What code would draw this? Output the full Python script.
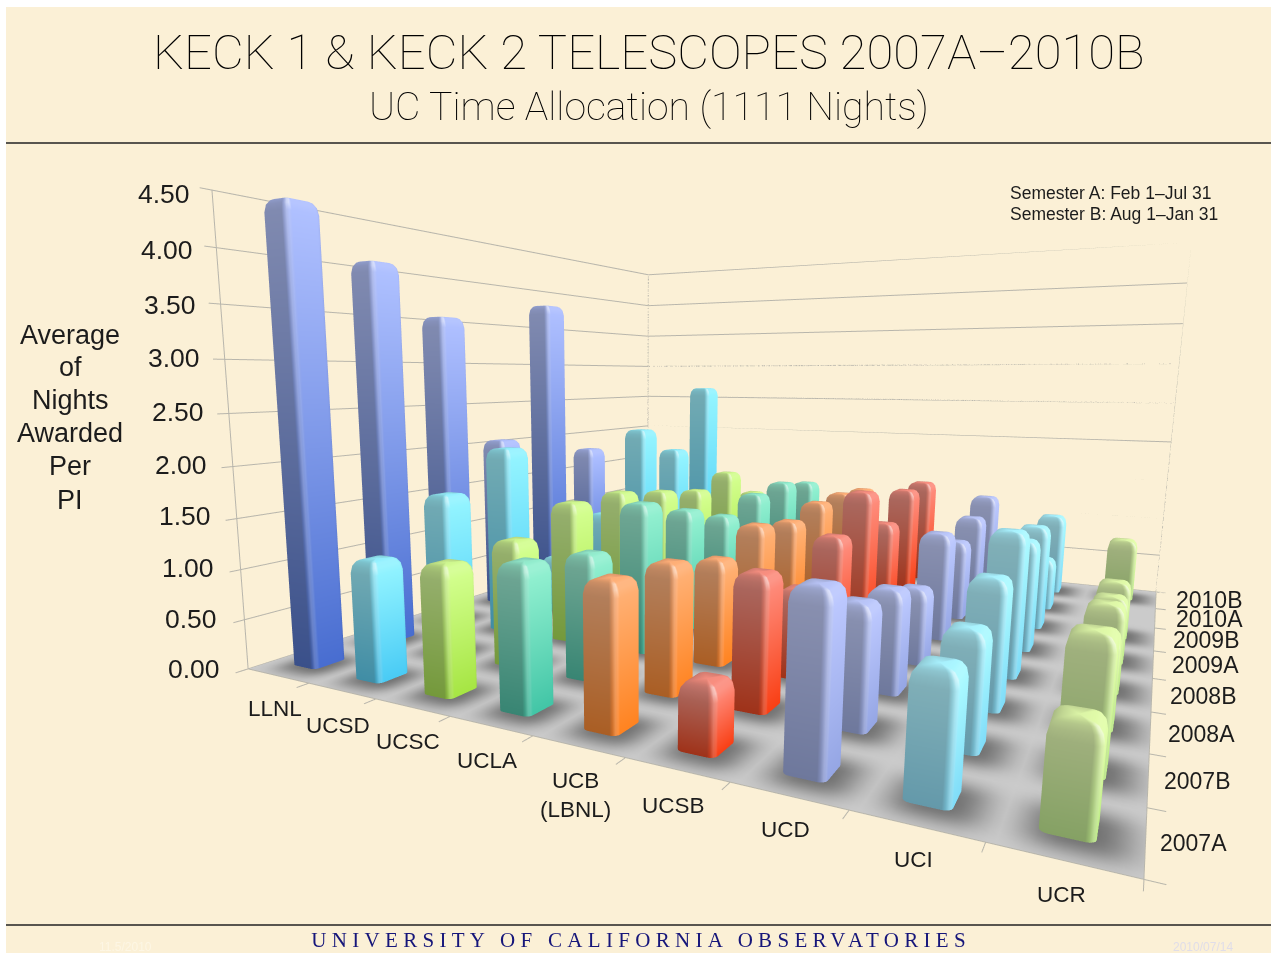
import numpy as np, plotly.graph_objects as go
INST=["LLNL","UCSD","UCSC","UCLA","UCB<br>(LBNL)","UCSB","UCD","UCI","UCR"]
SEM=["2007A","2007B","2008A","2008B","2009A","2009B","2010A","2010B"]
TICKS=["0.00","0.50","1.00","1.50","2.00","2.50","3.00","3.50","4.00","4.50"]
N2007A=[4.45,1.15,1.20,1.30,1.25,0.55,1.40,0.95,0.75]
N2007B=[4.00,1.65,1.25,1.20,1.20,1.20,1.05,0.95,1.05]
N2008A=[3.50,2.05,1.50,1.55,1.05,0.85,0.95,1.15,0.80]
N2008B=[2.05,0.65,1.50,1.35,1.25,1.20,0.75,1.40,0.80]
N2009A=[3.75,1.05,1.40,1.15,1.15,1.55,1.15,1.15,0.65]
N2009B=[1.80,2.10,1.30,1.30,1.25,1.05,0.90,1.15,0.60]
N2010A=[0.00,1.75,1.45,1.35,1.25,1.35,1.05,0.60,0.00]
N2010B=[0.00,2.65,1.05,1.25,1.20,1.35,1.20,1.00,0.75]
v=np.array([N2007A,N2007B,N2008A,N2008B,N2009A,N2009B,N2010A,N2010B])
COL_B=["#4468c8","#45c3ec","#9fdc40","#3fbd9f","#fb7d1e","#ef3c12","#8f9fdb","#7bd3ee","#b4e27e"]
COL_T=["#aabaf8","#90ecfa","#cdf68c","#8fe9ca","#ffac74","#f58a7c","#b6c2f6","#a6f2ff","#dcf6a4"]
def hex2(c): return np.array([int(c[i:i+2],16) for i in (1,3,5)],float)
def h(c): return "#%02x%02x%02x"%tuple(int(max(0,min(255,round(t)))) for t in c)
E=np.array([0.482,-1.256,0.078]);F=np.array([-0.4871,0.8563,-0.1717]);roll=0.0036
AY,AZ=1.052,0.580;H,cy=760,535
up0=np.array([np.sin(roll),0,np.cos(roll)])
XR=(0,9.3);YR=(-.4,8);ZR=(0,4.5)
ax=(XR[1]-XR[0])/9;ay_=AY*(YR[1]-YR[0])/8
shift=np.array([(XR[0]+XR[1])/2-4.5, ((YR[0]+YR[1])/2-4)]) 
Es=E-np.array([shift[0]/9,shift[1]*AY/8,0])
C=Es+F
WX=1/9;WY=AY/8;WZ=AZ/4.5
WHITE=np.array([255.,255.,255.])
def side_shade(a,col):
    # a: outward plan angle in degrees; +x faces are lit, -y faces are in shade
    d=np.cos(np.radians(a))
    fac=.74+.30*max(d,0)
    g=col.mean()
    base=col*(1-.18*(1-max(d,0)))+g*.18*(1-max(d,0))
    out=base*fac
    da=((a+35+180)%360)-180
    w=.22*np.exp(-(da/16)**2)
    return out*(1-w)+WHITE*w
def bar(xc,yc,val,cb,ct,sx=.043,sy=.053,rad=.008):
    tr=.010
    cb=hex2(cb);ct=hex2(ct)
    def ring(ins,z):
        hx=sx/2-ins;hy=sy/2-ins;r=max(rad-ins*.4,.003);pts=[]
        for cx,cy_,a0 in [(1,-1,-90),(1,1,0),(-1,1,90),(-1,-1,180)]:
            for k in range(5):
                ad=a0+k*22.5;a=np.radians(ad)
                pts.append(((cx*(hx-r)+r*np.cos(a))/WX+xc,(cy_*(hy-r)+r*np.sin(a))/WY+yc,z,ad))
        return pts
    levs=[(0,0,0)]
    zt=val;zs=min(.12,val*.4)
    for t in (0,.38,.7,.92,1):
        a=t*np.pi/2
        levs.append(((1-np.cos(a))*tr,zt-zs+zs*np.sin(a),t))
    P=[];I=[];J=[];K=[];VC=[]
    n=20
    for ins,z,lv in levs:
        for x_,y_,z_,ad in ring(ins,z):
            P.append((x_,y_,z_))
            t=min(z/val,1)**.85
            col=cb*(1-t)+ct*t
            c0=side_shade(ad,col)
            c1=ct*.55+side_shade(ad,ct)*.45
            mix=lv**1.5
            out=c0*(1-mix)+c1*mix
            da=((ad+30+180)%360)-180
            sp=.75*np.exp(-(da/22)**2)*np.exp(-((lv-.55)/.28)**2)
            VC.append(h(out*(1-sp)+WHITE*sp))
    for li in range(len(levs)-1):
        for q in range(n):
            a=li*n+q;b=li*n+(q+1)%n;c=a+n;d=b+n
            I+= [a,b];J+=[c,c];K+=[b,d]
    ci=len(P);P.append((xc,yc,zt));VC.append(h(ct*.8+side_shade(-45,ct)*.2))
    top=(len(levs)-1)*n
    for q in range(n):
        I.append(top+q);J.append(ci);K.append(top+(q+1)%n)
    return np.array(P),I,J,K,VC
fig=go.Figure()
gx=np.linspace(0,9,145);gy=np.linspace(0,8,130)
GX,GY=np.meshgrid(gx,gy)
D=np.zeros_like(GX)
for r in range(8):
    for c in range(9):
        if v[r,c]>0:
            D=np.maximum(D,np.exp(-(np.abs((GX-c-.56)/.37)**3+np.abs((GY-r-.44)/.34)**3)))
floorc=[h(np.array([203,203,203])*(1-.45*d)) for d in D.ravel()]
nn=len(gx);mm=len(gy)
idx=np.arange(nn*mm).reshape(mm,nn)
a=idx[:-1,:-1].ravel();b=idx[:-1,1:].ravel();c_=idx[1:,:-1].ravel();d=idx[1:,1:].ravel()
FLAT=dict(ambient=1,diffuse=0,specular=0,fresnel=0,roughness=1)
fig.add_trace(go.Mesh3d(x=GX.ravel(),y=GY.ravel(),z=np.zeros(nn*mm),i=np.r_[a,b],j=np.r_[b,d],k=np.r_[c_,c_],vertexcolor=floorc,lighting=FLAT,flatshading=True,hoverinfo="skip"))
for c in range(9):
    PS=[];I=[];J=[];K=[];VC=[];o=0
    for r in range(8):
        if v[r,c]<=0: continue
        P,i,j,k,vc=bar(c+.5,r+.5,v[r,c],COL_B[c],COL_T[c])
        PS.append(P);I+=[o+t for t in i];J+=[o+t for t in j];K+=[o+t for t in k];VC+=vc;o+=len(P)
    P=np.vstack(PS)
    fig.add_trace(go.Mesh3d(x=P[:,0],y=P[:,1],z=P[:,2],i=I,j=J,k=K,vertexcolor=VC,flatshading=False,lighting=FLAT,hoverinfo="skip"))
LX=[];LY=[];LZ=[]
def seg(p,q):
    LX.extend([p[0],q[0],None]);LY.extend([p[1],q[1],None]);LZ.extend([p[2],q[2],None])
for z in np.arange(0,4.51,.5):
    seg((0,-.12,z),(0,8,z));seg((0,8,z),(9,8,z))
for q in [(0,0),(0,8),(9,8)]:
    seg((q[0],q[1],-0),(q[0],q[1],4.5))
for c in range(10): seg((c,0,0),(c,-.14,0))
for r in range(9): seg((9,r,0),(9.13,r,0))
seg((0,0,0),(9,0,0));seg((9,0,0),(9,8,0))
fig.add_trace(go.Scatter3d(x=LX,y=LY,z=LZ,mode="lines",line=dict(color="#b8b6ac",width=2),hoverinfo="skip"))
sc=dict(domain=dict(x=[0,1],y=[1-(cy+H/2)/953,1-(cy-H/2)/953]),aspectmode="manual",aspectratio=dict(x=ax,y=ay_,z=AZ),bgcolor="rgba(0,0,0,0)",
 xaxis=dict(range=XR,visible=False),yaxis=dict(range=YR,visible=False),zaxis=dict(range=ZR,visible=False),
 camera=dict(eye=dict(x=Es[0],y=Es[1],z=Es[2]),center=dict(x=C[0],y=C[1],z=C[2]),up=dict(x=float(up0[0]),y=0,z=float(up0[2]))))
def A(px,py,t,size,anchor="center",color="#1c1c1c",family="Liberation Sans",weight=None):
    fo=dict(size=size,color=color,family=family)
    if weight: fo["weight"]=weight
    return dict(x=px/1271,y=1-py/953,xref="paper",yref="paper",xanchor=anchor,yanchor="middle",showarrow=False,text=t,font=fo)
ann=[A(649,53,"KECK 1 &amp; KECK 2 TELESCOPES 2007A–2010B",49,family="Roboto",weight=100,color="#000"),
     A(649,107,"UC Time Allocation (1111 Nights)",39.2,family="Roboto",weight=100,color="#000"),
     A(641,940,"UNIVERSITY OF CALIFORNIA OBSERVATORIES",21,color="#16167a",family="Liberation Serif"),
     A(125,947,"11.5/2010",12,color="#fdf6e4"),A(1203,947,"2010/07/14",12,color="#e0dde8"),
     A(1008,193,"Semester A: Feb 1–Jul 31",17.5,"left"),A(1008,214,"Semester B: Aug 1–Jan 31",17.5,"left")]
for t,y in zip(["Average","of","Nights","Awarded","Per","PI"],[335,367,400,433,466,500]): ann.append(A(70,y,t,27))
for t,x,y in zip(TICKS,[222,219,216,213,209,206,202,198,195,192],[669,619,568,516,465,412,358,305,250,194]):
    ann.append(A(x,y,t,26.5,"right"))
for t,x,y in zip(INST,[275,338,408,487,575,673,785,913,1061],[708,725,741,760,795,805,829,859,894]):
    ann.append(A(x,y,t,22.5))
for t,x,y in zip(SEM,[1193,1197,1201,1203,1205,1206,1209,1209],[843,781,734,696,665,640,619,600]):
    ann.append(A(x,y,t,23))
shapes=[dict(type="rect",xref="paper",yref="paper",x0=6/1271,x1=1,y0=0,y1=1-7/953,fillcolor="#fbf0d6",line_width=0,layer="below"),
 dict(type="line",xref="paper",yref="paper",x0=6/1271,x1=1,y0=1-143/953,y1=1-143/953,line=dict(color="#222",width=1.5)),
 dict(type="line",xref="paper",yref="paper",x0=6/1271,x1=1,y0=1-925/953,y1=1-925/953,line=dict(color="#222",width=1.5))]
fig.update_layout(width=1271,height=953,margin=dict(l=0,r=0,t=0,b=0),scene=sc,showlegend=False,paper_bgcolor="white",annotations=ann,shapes=shapes)
js="""document.body.style.margin='0';
document.querySelectorAll('text').forEach(function(t){if(t.textContent.indexOf('UNIVERSITY')===0){t.style.letterSpacing='5.3px';}});"""
fig.write_html("out.html",post_script=js,config=dict(displayModeBar=False))
